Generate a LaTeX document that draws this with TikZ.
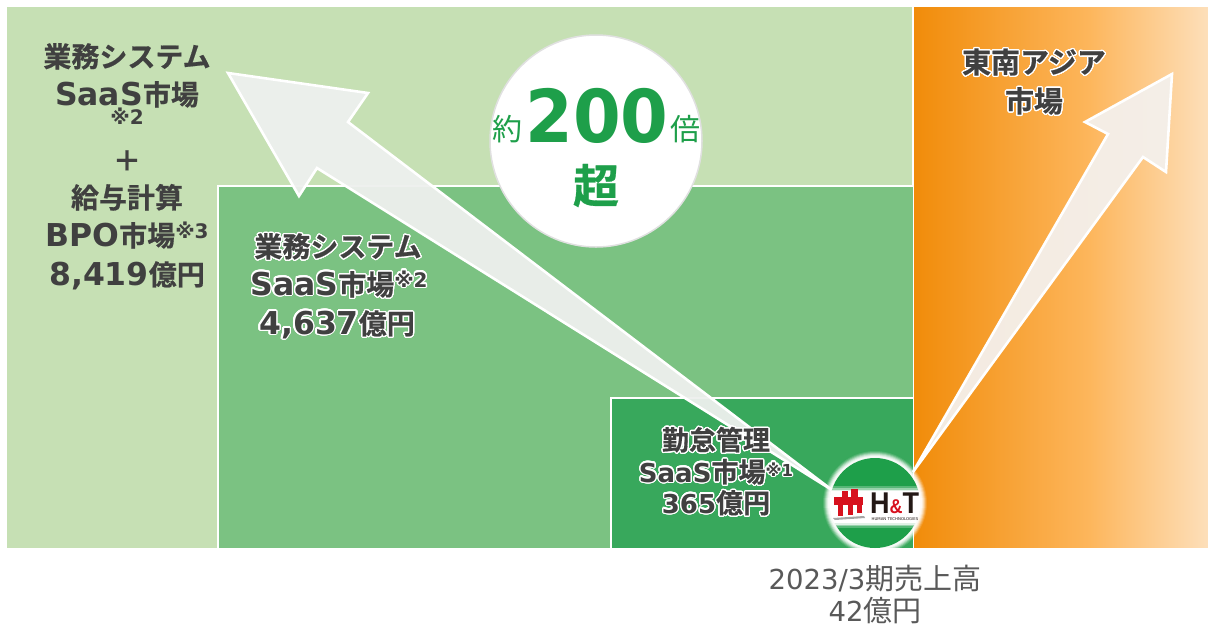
\documentclass[tikz,border=0pt]{standalone}
\usepackage{fontspec}
\usepackage{contour}
\setmainfont{Noto Sans CJK JP}
\newfontfamily\jpb[FakeBold=0.6]{Noto Sans CJK JP Bold}
\newfontfamily\jpr{Noto Sans CJK JP}
\newfontfamily\latb{DejaVu Sans Bold}
\newfontfamily\latr{DejaVu Sans}
\newfontfamily\logof{Liberation Sans Bold}
\newcommand{\fs}[1]{\fontsize{#1}{#1}\selectfont}
\newcommand{\LA}[1]{{\latb\fontsize{31.5}{31.5}\selectfont #1}}
\newcommand{\LB}[1]{{\latb\fontsize{26}{26}\selectfont #1}}
\newcommand{\SUP}[1]{\raisebox{8pt}{\fontsize{20}{20}\selectfont\latb #1}}
\contourlength{1.3pt}
\contournumber{24}
\definecolor{lightg}{HTML}{C6E0B4}
\definecolor{midg}{HTML}{7BC282}
\definecolor{darkg}{HTML}{38A85C}
\definecolor{brandg}{HTML}{1E9F4A}
\definecolor{txt}{HTML}{404040}
\definecolor{txtl}{HTML}{595959}
\definecolor{org}{HTML}{F18C0A}
\definecolor{orgm}{HTML}{FDB65C}
\definecolor{orge}{HTML}{FDDFBA}
\definecolor{logored}{HTML}{D7111E}
\definecolor{logok}{HTML}{231815}
\definecolor{arrowg}{HTML}{EEF0EE}
\definecolor{arrowo}{HTML}{F4F0EC}
\tikzset{
  panel/.style={draw=white,line width=2.4pt},
  arrowshape/.style={draw=white,line width=2.6pt,fill=#1,fill opacity=.95,miter limit=10,line join=miter},
  lab/.style={anchor=base,inner sep=0,outer sep=0,text=txt,font=\jpb\fs{28}},
  labs/.style={anchor=base,inner sep=0,outer sep=0,text=txt,font=\jpb\fs{27}},
  foot/.style={anchor=base,inner sep=0,outer sep=0,text=txtl,font=\jpr\fs{29}},
  big/.style={anchor=base,inner sep=0,outer sep=0,text=brandg},
  redbar/.style={fill=logored},
}
\begin{document}
\begin{tikzpicture}[x=1pt,y=-1pt]
\useasboundingbox (0,0) rectangle (1208,625);
\fill[white] (0,0) rectangle (1208,625);
% panels
\path[fill=lightg] (7,7) rectangle (913,548);
\path[left color=org,right color=orgm] (914,7) rectangle (1090,548);
\path[left color=orgm,right color=orge] (1089.5,7) rectangle (1208,548);
\draw[white,line width=2.4pt] (913,0) -- (913,548);
\fill[midg] (218,186) rectangle (913,548);
\draw[panel] (218,548) -- (218,186) -- (913,186);
\fill[darkg] (611,398) rectangle (913,548);
\draw[panel] (611,548) -- (611,398) -- (913,398);
\fill[white] (0,548) rectangle (1208,625);
% left labels
\node[lab] (l1) at (127,67) {業務システム};
\node[lab] (l2) at (127,105) {\LA{SaaS}市場};
\node[anchor=base,inner sep=0,text=txt] (l3) at (127,124) {\fontsize{20}{20}\selectfont\latb ※2};
\node[lab] (l4) at (127,171) {＋};
\node[lab] (l5) at (127,208) {給与計算};
\node[lab] (l6) at (127,246) {\LA{BPO}市場\SUP{※3}};
\node[lab] (l7) at (127,285) {\LA{8,419}億円};
% arrows
\draw[arrowshape=arrowg] (228,73) -- (368,93) -- (348,122) -- (832,490) -- (317,168) -- (299,196) -- cycle;
\draw[arrowshape=arrowo] (1172,74) -- (1166,172) -- (1143,157) -- (913,472) -- (1108,134) -- (1085,122) -- cycle;
% mid labels
\node[lab] (m1) at (338,257) {\contour{white}{業務システム}};
\node[lab] (m2) at (339,295) {\contour{white}{\LA{SaaS}市場\SUP{※2}}};
\node[lab] (m3) at (337,334) {\contour{white}{\LA{4,637}億円}};
% dark labels
\node[labs] (d1) at (716,450) {\contour{white}{勤怠管理}};
\node[labs] (d2) at (716,482) {\contour{white}{\LB{SaaS}市場\raisebox{6pt}{\fs{16.5}\latb ※1}}};
\node[labs] (d3) at (716,513) {\contour{white}{\LB{365}億円}};
% orange labels
\node[lab,font=\jpb\fs{29}] (o1) at (1034,73) {\contour{white}{東南アジア}};
\node[lab,font=\jpb\fs{29}] (o2) at (1034,112) {\contour{white}{市場}};
% badge
\node[circle,draw=black!12,line width=1.5pt,fill=white,minimum size=212pt,inner sep=0] (badge) at (596,141) {};
\node[big,font=\jpr\fs{30}] (b1) at (507,140) {約};
\node[big,font=\latb\fs{73}] (b2) at (597,142) {\scalebox{.94}[1]{200}};
\node[big,font=\jpr\fs{30}] (b3) at (685,140) {倍};
\node[big,font=\jpb\fs{46}] (b4) at (596,203) {超};
% logo
\foreach \r/\o in {52/.12,51/.2,50/.3,49/.4,48/.5,47/.7}{\fill[white,opacity=\o] (875,503) circle (\r);}
\fill[brandg] (875,503) circle (45);
\begin{scope}
\clip (875,503) circle (45.5);
\foreach \e/\o in {5/.25,3/.4,1.5/.7,0/1}{\fill[white,opacity=\o] (825,{491-\e}) rectangle (925,{523+\e});}
\end{scope}
% logo mark
\fill[redbar] (834,497) rectangle (863,505);
\fill[redbar] (842,491) rectangle (848,497);
\fill[redbar] (851,489) rectangle (858,497);
\fill[redbar] (838,505) rectangle (843,516);
\fill[redbar] (848,505) rectangle (853,515);
\fill[redbar] (857,505) rectangle (862,513);
\fill[gray!70] (833,518) -- (864,516) -- (865,518) -- (835,520) -- cycle;
\node[anchor=base west,inner sep=0,text=logok] (logo) at (870,513) {\scalebox{.9}[1]{\logof\fs{30}H{\color{logored}\fs{20}\&}T}};
\node[anchor=base,inner sep=0,text=logok,font=\latr\fs{3.9}] (logosub) at (895,520) {HUMAN TECHNOLOGIES};
% footer
\node[foot] (f1) at (875,589) {{\latr\fs{27.5}2023/3}期売上高};
\node[foot] (f2) at (875,621) {\raisebox{0pt}[\height][0pt]{{\latr\fs{27.5}42}億円}};
\end{tikzpicture}
\end{document}
